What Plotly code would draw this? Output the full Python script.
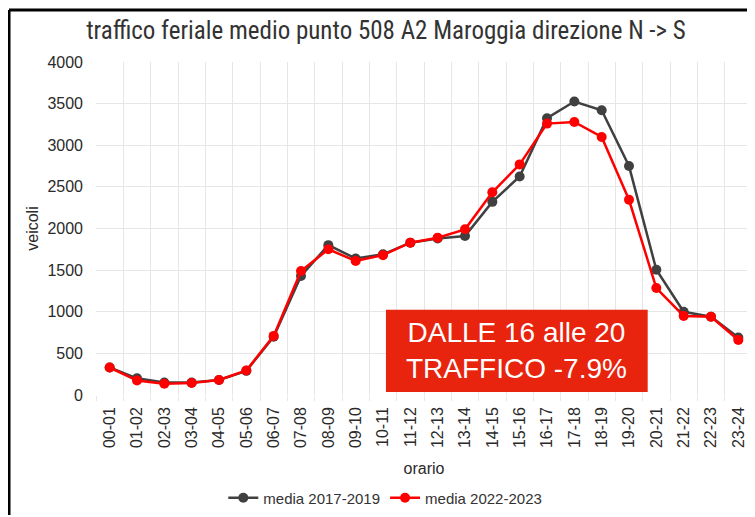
import plotly.graph_objects as go

# fasce orarie
orario = ["00-01", "01-02", "02-03", "03-04", "04-05", "05-06", "06-07", "07-08",
          "08-09", "09-10", "10-11", "11-12", "12-13", "13-14", "14-15", "15-16",
          "16-17", "17-18", "18-19", "19-20", "20-21", "21-22", "22-23", "23-24"]

media_2017_2019 = [330, 200, 150, 150, 180, 290, 700, 1430, 1800, 1640, 1690, 1830,
                   1880, 1910, 2320, 2625, 3325, 3525, 3420, 2750, 1505, 1000, 940, 690]
media_2022_2023 = [330, 175, 135, 145, 180, 295, 710, 1490, 1750, 1610, 1680, 1830,
                   1890, 1990, 2435, 2770, 3260, 3280, 3100, 2345, 1285, 950, 940, 660]

x = list(range(len(orario)))

fig = go.Figure()
fig.add_trace(go.Scatter(x=x, y=media_2017_2019, name="media 2017-2019",
                         mode="lines+markers",
                         line=dict(color="#404040", width=2.5),
                         marker=dict(size=10, color="#404040")))
fig.add_trace(go.Scatter(x=x, y=media_2022_2023, name="media 2022-2023",
                         mode="lines+markers",
                         line=dict(color="#ff0000", width=2.5),
                         marker=dict(size=10, color="#ff0000")))

# the page body has an 8px margin, so the figure is a bit smaller than the window
fig.update_layout(
    width=747, height=509,
    margin=dict(l=88, r=3, t=54, b=119),
    paper_bgcolor="white", plot_bgcolor="white",
    font=dict(family="Liberation Sans, Arial", size=16, color="#2a2a2a"),
    title=dict(text="traffico feriale medio punto 508 A2 Maroggia direzione N -> S",
               x=0.506, xanchor="center", y=0.957, yanchor="middle",
               font=dict(family="Liberation Sans Narrow, Roboto Condensed, Arial Narrow, sans-serif",
                         size=25, color="#333333")),
    xaxis=dict(range=[-0.5, 23.5], tickvals=x, ticktext=orario, tickangle=-90,
               automargin=False, ticklabelstandoff=8,
               showgrid=False, zeroline=False, showline=False,
               minor=dict(tick0=-0.5, dtick=1, showgrid=True, gridcolor="#e6e6e6",
                          ticks="outside", ticklen=5, tickcolor="#e6e6e6"),
               title=dict(text="orario", font=dict(size=16))),
    yaxis=dict(range=[0, 4000], dtick=500, showgrid=True, gridcolor="#e6e6e6",
               automargin=False, ticklabelstandoff=12,
               zeroline=False, showline=False, ticks="",
               title=dict(text="veicoli", standoff=4, font=dict(size=16))),
    legend=dict(orientation="h", x=0.441, xanchor="center", y=-0.26, yanchor="top",
                font=dict(family="Liberation Sans Narrow, Arial Narrow, sans-serif", size=15,
                          color="#333333"),
                itemwidth=30),
    showlegend=True,
)

# cornice nera (sinistra e in alto)
fig.add_shape(type="line", xref="paper", yref="paper",
              x0=-0.1326, x1=-0.1326, y0=1.156, y1=-0.36,
              line=dict(color="black", width=3))
fig.add_shape(type="line", xref="paper", yref="paper",
              x0=-0.1326, x1=1.01, y0=1.156, y1=1.156,
              line=dict(color="black", width=3))

# riquadro rosso
fig.add_shape(type="rect", xref="paper", yref="paper",
              x0=0.442, x1=0.841, y0=0.009, y1=0.256,
              fillcolor="#e8230e", line=dict(width=0), layer="above")
fig.add_annotation(xref="paper", yref="paper", x=0.6415, y=0.1325,
                   text="DALLE 16 alle 20<br>TRAFFICO -7.9%", showarrow=False,
                   font=dict(family="Liberation Sans, Arial", size=28, color="white"),
                   align="center", xanchor="center", yanchor="middle")

fig.write_html("out.html")
